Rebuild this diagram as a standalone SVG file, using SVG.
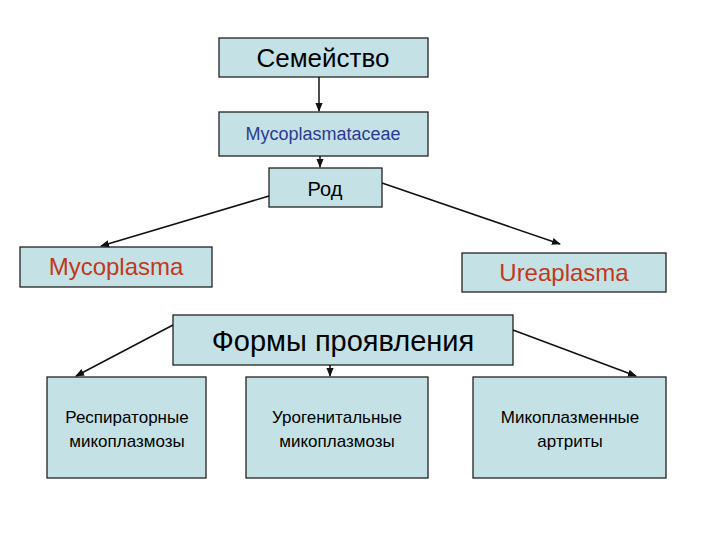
<svg xmlns="http://www.w3.org/2000/svg" width="720" height="540" viewBox="0 0 720 540">
<style>
.b{fill:#c4e2e6;stroke:#222;stroke-width:1.3}
text{font-family:"Liberation Sans",Arial,sans-serif;text-anchor:middle}
.c line{stroke:#111;stroke-width:1.5;marker-end:url(#a)}
</style>
<defs><marker id="a" viewBox="0 0 10 10" refX="9" refY="5" markerWidth="6" markerHeight="6" orient="auto"><path d="M0,1L10,5L0,9z" fill="#111"/></marker></defs>
<rect width="720" height="540" fill="#fff"/>
<g id="n1"><rect class="b" x="219" y="38" width="209" height="39"/><text x="323" y="67" font-size="26">Семейство</text></g>
<g id="n2"><rect class="b" x="219" y="112" width="209" height="44"/><text x="323" y="140" font-size="18" fill="#2b3a8f">Mycoplasmataceae</text></g>
<g id="n3"><rect class="b" x="269" y="168" width="113" height="39"/><text x="325" y="196" font-size="20">Род</text></g>
<g id="n4"><rect class="b" x="20" y="247" width="192" height="40"/><text x="116" y="275" font-size="24" fill="#c0391b">Mycoplasma</text></g>
<g id="n5"><rect class="b" x="462" y="253" width="204" height="39"/><text x="564" y="281" font-size="24" fill="#c0391b">Ureaplasma</text></g>
<g id="n6"><rect class="b" x="173" y="315" width="340" height="50"/><text x="343" y="351" font-size="29">Формы проявления</text></g>
<g id="n7"><rect class="b" x="47" y="377" width="159" height="101"/><text x="127" y="423" font-size="17">Респираторные</text><text x="127" y="447" font-size="17">микоплазмозы</text></g>
<g id="n8"><rect class="b" x="246" y="377" width="182" height="101"/><text x="337" y="423" font-size="17">Урогенитальные</text><text x="337" y="447" font-size="17">микоплазмозы</text></g>
<g id="n9"><rect class="b" x="473" y="377" width="193" height="101"/><text x="570" y="423" font-size="17">Микоплазменные</text><text x="570" y="447" font-size="17">артриты</text></g>
<g class="c" id="connectors">
<line x1="319" y1="77" x2="319" y2="111"/>
<line x1="320" y1="156" x2="320" y2="167"/>
<line x1="269" y1="196" x2="101" y2="246"/>
<line x1="382" y1="183" x2="560" y2="244"/>
<line x1="173" y1="325" x2="76" y2="376"/>
<line x1="330" y1="365" x2="330" y2="376"/>
<line x1="513" y1="330" x2="636" y2="376"/>
</g>
</svg>
